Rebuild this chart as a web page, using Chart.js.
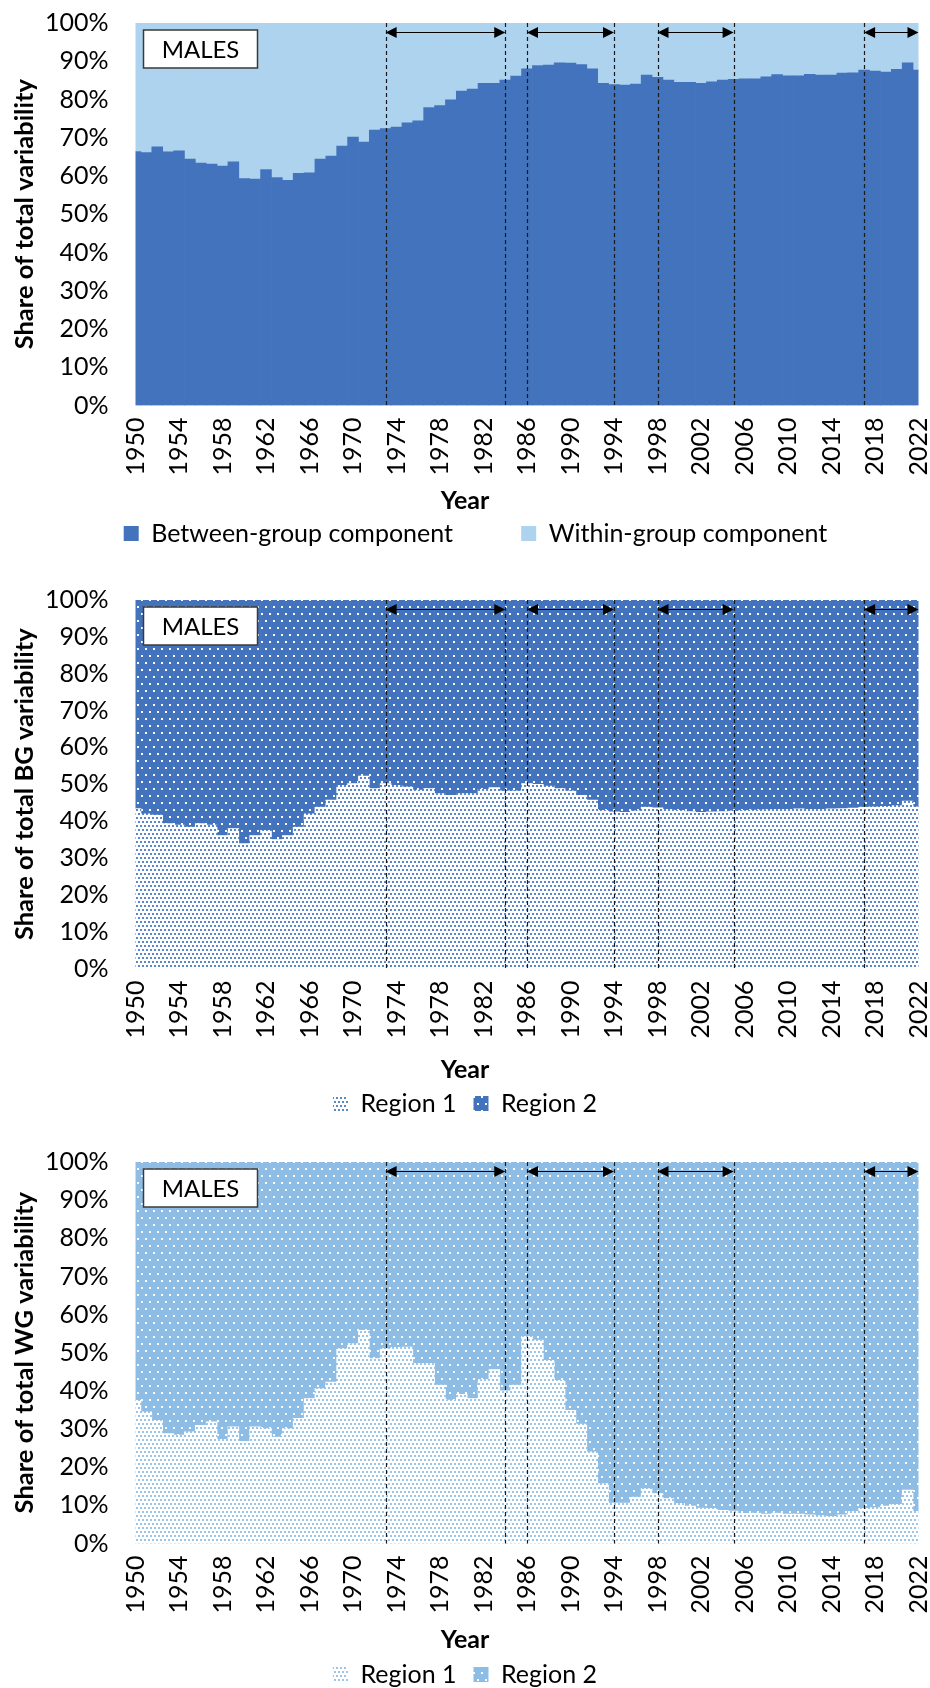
<!DOCTYPE html>
<html>
<head>
<meta charset="utf-8">
<title>Share of total variability – males</title>
<script src="https://cdn.jsdelivr.net/npm/chart.js@4.4.1/dist/chart.umd.min.js"></script>
<style>
  html, body { margin: 0; padding: 0; background: #fff; overflow: hidden; }
  .panel { position: absolute; left: 0; }
</style>
</head>
<body>
<canvas id="chart-total" class="panel" style="top:0" width="930" height="556"></canvas>
<canvas id="chart-bg" class="panel" style="top:577px" width="930" height="549"></canvas>
<canvas id="chart-wg" class="panel" style="top:1139px" width="930" height="558"></canvas>
<script>
// --- Data ---
const years = [
  1950, 1951, 1952, 1953, 1954, 1955, 1956, 1957, 1958, 1959,
  1960, 1961, 1962, 1963, 1964, 1965, 1966, 1967, 1968, 1969,
  1970, 1971, 1972, 1973, 1974, 1975, 1976, 1977, 1978, 1979,
  1980, 1981, 1982, 1983, 1984, 1985, 1986, 1987, 1988, 1989,
  1990, 1991, 1992, 1993, 1994, 1995, 1996, 1997, 1998, 1999,
  2000, 2001, 2002, 2003, 2004, 2005, 2006, 2007, 2008, 2009,
  2010, 2011, 2012, 2013, 2014, 2015, 2016, 2017, 2018, 2019,
  2020, 2021, 2022
];
const tickYears = [1950, 1954, 1958, 1962, 1966, 1970, 1974, 1978, 1982, 1986,
  1990, 1994, 1998, 2002, 2006, 2010, 2014, 2018, 2022];

// between-group share of total variability (%)
const betweenShare = [
  66.4, 66.1, 67.6, 66.3, 66.6, 64.4, 63.4, 63.1, 62.6, 63.7,
  59.3, 59.2, 61.7, 59.6, 58.9, 60.7, 60.8, 64.4, 65.2, 67.8,
  70.2, 68.9, 72.0, 72.4, 72.8, 73.9, 74.4, 77.9, 78.4, 79.9,
  82.2, 82.7, 84.2, 84.2, 85.1, 86.1, 88.0, 88.9, 89.0, 89.6,
  89.5, 89.1, 88.0, 84.2, 83.9, 83.8, 84.0, 86.4, 85.8, 85.1,
  84.5, 84.5, 84.2, 84.6, 85.1, 85.3, 85.4, 85.4, 85.9, 86.5,
  86.2, 86.2, 86.6, 86.4, 86.4, 86.9, 87.0, 87.7, 87.4, 87.2,
  87.9, 89.6, 87.7
];
// Region 1 share of the between-group component (%)
const bgRegion1 = [
  43.4, 42.0, 41.6, 39.3, 38.9, 38.4, 39.3, 38.9, 36.1, 38.0,
  33.9, 36.1, 37.5, 35.0, 36.1, 38.4, 42.0, 43.8, 45.7, 49.7,
  50.2, 52.2, 48.8, 50.2, 49.7, 49.3, 48.4, 48.8, 47.5, 47.0,
  47.5, 47.5, 48.6, 49.1, 48.2, 48.2, 50.2, 50.0, 49.5, 48.8,
  48.2, 47.0, 45.7, 42.9, 42.5, 42.4, 42.8, 43.8, 43.6, 43.2,
  42.9, 42.6, 42.4, 42.5, 42.6, 42.8, 42.9, 43.0, 43.1, 43.2,
  43.2, 43.3, 43.2, 43.2, 43.3, 43.4, 43.5, 43.8, 43.9, 44.0,
  44.2, 45.4, 43.9
];
// Region 1 share of the within-group component (%)
const wgRegion1 = [
  37.5, 34.5, 32.3, 28.8, 28.4, 29.3, 31.0, 31.9, 27.3, 30.6,
  26.8, 30.6, 30.1, 27.9, 30.1, 32.8, 38.0, 40.6, 42.3, 51.1,
  52.4, 55.9, 48.5, 51.1, 51.4, 51.5, 47.2, 47.2, 41.5, 37.6,
  39.1, 38.0, 43.0, 45.6, 40.0, 41.5, 54.3, 53.3, 48.0, 42.8,
  34.9, 31.3, 24.0, 15.7, 10.6, 10.6, 12.2, 14.4, 13.1, 11.8,
  10.5, 9.8, 9.3, 9.2, 8.7, 8.5, 7.9, 8.0, 7.7, 8.0,
  7.7, 7.7, 7.5, 7.3, 7.1, 7.5, 8.4, 9.2, 9.4, 9.8,
  10.3, 14.0, 8.4
];

// dashed period boundaries and the arrowed spans between them
const breakYears = [1973, 1984, 1986, 1994, 1998, 2005, 2017];
const periods = [[1973, 1984], [1986, 1994], [1998, 2005], [2017, 2022]];

const DARK_BLUE = '#4273BC';
const PALE_BLUE = '#AED3EE';
const MID_BLUE = '#8DBDE5';
const FONT = 'Lato, "Open Sans", sans-serif';
const PLOT_LEFT = 135.5;

Chart.defaults.font.family = FONT;
Chart.defaults.color = '#000';

// shares always add up to 100%
const rest = arr => arr.map(v => +(100 - v).toFixed(1));

// --- Dotted fills ---
function dotPattern(bg, dot, w, h, spots, size) {
  const c = document.createElement('canvas');
  c.width = w;
  c.height = h;
  const g = c.getContext('2d');
  g.fillStyle = bg;
  g.fillRect(0, 0, w, h);
  g.fillStyle = dot;
  spots.forEach(([x, y]) => g.fillRect(x, y, size, size));
  return g.createPattern(c, 'repeat');
}
const fineDots = [[0, 0], [4, 0], [2, 4], [6, 4]];
const wideDots = [[1, 1], [5, 8]];

// --- Period markers, label box and axis titles ---
const periodMarks = {
  id: 'periodMarks',
  afterDatasetsDraw(chart, args, opts) {
    const { ctx, chartArea: a, scales: { x } } = chart;
    const px = yr => x.getPixelForValue(years.indexOf(yr));
    ctx.save();

    ctx.strokeStyle = '#1a1a1a';
    ctx.lineWidth = 1.2;
    ctx.setLineDash([4, 3]);
    breakYears.forEach(yr => {
      const xx = Math.round(px(yr)) + 0.5;
      ctx.beginPath();
      ctx.moveTo(xx, a.top);
      ctx.lineTo(xx, a.bottom);
      ctx.stroke();
    });
    ctx.setLineDash([]);

    // double-headed arrows
    const ay = a.top + 9.5;
    ctx.fillStyle = '#000';
    ctx.strokeStyle = '#000';
    periods.forEach(([from, to]) => {
      const x1 = Math.min(px(from), a.right), x2 = Math.min(px(to), a.right);
      ctx.beginPath();
      ctx.moveTo(x1 + 8, ay);
      ctx.lineTo(x2 - 8, ay);
      ctx.stroke();
      ctx.beginPath();
      ctx.moveTo(x1, ay);
      ctx.lineTo(x1 + 11, ay - 5.5);
      ctx.lineTo(x1 + 11, ay + 5.5);
      ctx.closePath();
      ctx.moveTo(x2, ay);
      ctx.lineTo(x2 - 11, ay - 5.5);
      ctx.lineTo(x2 - 11, ay + 5.5);
      ctx.closePath();
      ctx.fill();
    });

    // MALES box
    const bx = a.left + 8, by = a.top + 7;
    ctx.fillStyle = '#fff';
    ctx.fillRect(bx, by, 114, 38);
    ctx.strokeStyle = '#3a3a3a';
    ctx.lineWidth = 1.5;
    ctx.strokeRect(bx, by, 114, 38);
    ctx.fillStyle = '#000';
    ctx.font = '24px ' + FONT;
    ctx.textAlign = 'center';
    ctx.textBaseline = 'middle';
    ctx.fillText('MALES', bx + 57, by + 20);

    // axis titles are centred on the canvas / plot height
    ctx.font = 'bold 25px ' + FONT;
    ctx.fillText('Year', chart.width / 2, a.bottom + opts.yearOffset);
    ctx.translate(25, (a.top + a.bottom) / 2);
    ctx.rotate(-Math.PI / 2);
    ctx.font = 'bold 25.5px ' + FONT;
    ctx.fillText(opts.yTitle, 0, 0);
    ctx.restore();
  }
};

function makeChart(id, cfg) {
  const padLeft = cfg.legendShift || 0;
  return new Chart(document.getElementById(id), {
    type: 'bar',
    data: {
      labels: years.map(String),
      datasets: cfg.datasets.map(d => ({
        barPercentage: 1,
        categoryPercentage: 1,
        borderWidth: 0,
        borderColor: 'transparent',
        clip: 0,
        ...d
      }))
    },
    options: {
      responsive: false,
      animation: false,
      devicePixelRatio: 1,
      layout: { padding: { top: 23, right: 0, bottom: 0, left: padLeft } },
      plugins: {
        legend: {
          position: 'bottom',
          labels: {
            boxWidth: 15, boxHeight: 15, padding: 17, font: { size: 25 }, color: '#000',
            generateLabels: chart => Chart.defaults.plugins.legend.labels.generateLabels(chart)
              .map((item, i) => i === 0 && cfg.firstLabelGap ? { ...item, text: item.text + ' '.repeat(cfg.firstLabelGap) } : item)
          }
        },
        tooltip: { enabled: false },
        periodMarks: { yearOffset: cfg.yearOffset, yTitle: cfg.yTitle }
      },
      scales: {
        x: {
          stacked: true,
          offset: false,
          grid: { display: false, drawTicks: false },
          border: { display: false },
          ticks: {
            autoSkip: false, minRotation: 90, maxRotation: 90, padding: 12,
            font: { size: 25 }, color: '#000',
            callback: (v, i) => tickYears.includes(years[i]) ? String(years[i]) : ''
          },
          afterFit: s => { s.height = cfg.xAxisHeight; s.paddingLeft = 0; s.paddingRight = 11.5; }
        },
        y: {
          stacked: true,
          min: 0,
          max: 100,
          grid: { display: false, drawTicks: false },
          border: { display: false },
          ticks: { stepSize: 10, padding: 27, font: { size: 25 }, color: '#000', callback: v => v + '%' },
          afterFit: s => { s.width = PLOT_LEFT - padLeft; s.paddingTop = 0; s.paddingBottom = 0; }
        }
      }
    },
    plugins: [periodMarks]
  });
}

// --- Total variability: between vs within ---
makeChart('chart-total', {
  yTitle: 'Share of total variability',
  xAxisHeight: 98.5,
  yearOffset: 95,
  legendShift: 21,
  firstLabelGap: 8,
  datasets: [
    { label: 'Between-group component', data: betweenShare, backgroundColor: DARK_BLUE },
    { label: 'Within-group component', data: rest(betweenShare), backgroundColor: PALE_BLUE }
  ]
});

// --- Between-group variability by region ---
makeChart('chart-bg', {
  yTitle: 'Share of total BG variability',
  xAxisHeight: 105.5,
  yearOffset: 101,
  datasets: [
    { label: 'Region 1', data: bgRegion1, backgroundColor: dotPattern('#fff', '#5A86C8', 8, 8, fineDots, 2) },
    { label: 'Region 2', data: rest(bgRegion1), backgroundColor: dotPattern(DARK_BLUE, '#fff', 8, 14, wideDots, 2) }
  ]
});

// --- Within-group variability by region ---
makeChart('chart-wg', {
  yTitle: 'Share of total WG variability',
  xAxisHeight: 101.5,
  yearOffset: 96,
  datasets: [
    { label: 'Region 1', data: wgRegion1, backgroundColor: dotPattern('#fff', '#9CC5E8', 8, 8, fineDots, 2) },
    { label: 'Region 2', data: rest(wgRegion1), backgroundColor: dotPattern(MID_BLUE, '#fff', 8, 14, wideDots, 2) }
  ]
});
</script>
</body>
</html>
